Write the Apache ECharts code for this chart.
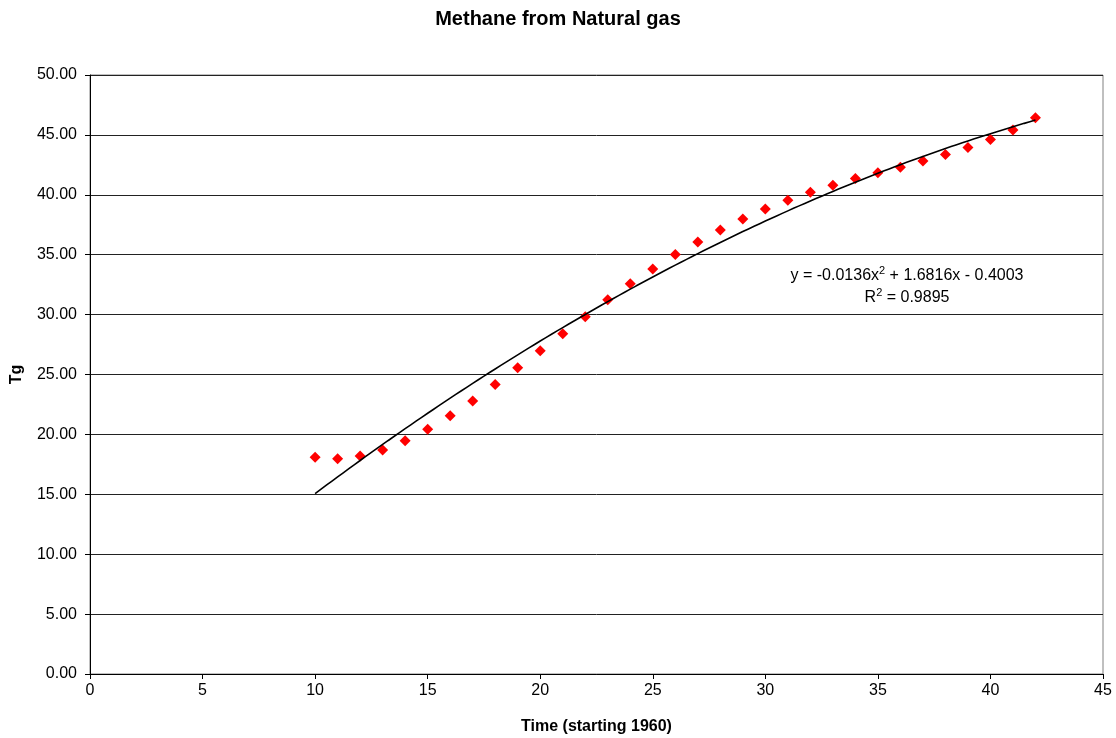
<!DOCTYPE html>
<html>
<head>
<meta charset="utf-8">
<title>Methane from Natural gas</title>
<script src="https://cdn.jsdelivr.net/npm/echarts@6/dist/echarts.min.js"></script>
<style>
  html, body { margin: 0; padding: 0; background: #fff; }
  #app { width: 1116px; height: 738px; }
</style>
</head>
<body>
<div id="app"></div>
<script>
// years since 1960
const years = [10, 11, 12, 13, 14, 15, 16, 17, 18, 19, 20, 21, 22, 23, 24, 25,
  26, 27, 28, 29, 30, 31, 32, 33, 34, 35, 36, 37, 38, 39, 40, 41, 42];
// methane, Tg
const methane = [18.09, 17.97, 18.2, 18.7, 19.47, 20.42, 21.56, 22.79, 24.16, 25.56,
  26.99, 28.41, 29.83, 31.25, 32.57, 33.81, 35.02, 36.06, 37.06, 37.98,
  38.81, 39.55, 40.21, 40.8, 41.37, 41.84, 42.3, 42.82, 43.37, 43.94,
  44.61, 45.4, 46.43];
// polynomial trendline (order 2) as printed on the chart: a x^2 + b x + c
const trendCoef = [-0.0136, 1.6816, -0.4003];
const rSquared = 0.9895;

const FONT = "Liberation Sans, Arial, sans-serif";

const points = years.map((x, i) => [x, methane[i]]);

// trendline sampled over the data range
const trend = [];
for (let x = years[0]; x <= years[years.length - 1] + 1e-9; x += 0.25) {
  trend.push([x, trendCoef[0] * x * x + trendCoef[1] * x + trendCoef[2]]);
}

const eqText = "y = " + trendCoef[0].toFixed(4) + "x{sup|2} + " + trendCoef[1].toFixed(4) +
  "x - " + Math.abs(trendCoef[2]).toFixed(4);
const r2Text = "R{sup|2} = " + rSquared.toFixed(4);
const supStyle = { fontSize: 11, padding: [0, 0, 11, 0], fontFamily: FONT };

const chart = echarts.init(document.getElementById("app"));
chart.setOption({
  backgroundColor: "#fff",
  animation: false,
  textStyle: { fontFamily: FONT },
  title: {
    text: "Methane from Natural gas",
    left: "center",
    top: 4,
    textStyle: { fontFamily: FONT, fontSize: 20, fontWeight: "bold", color: "#000" }
  },
  grid: {
    left: 90,
    right: 13,
    top: 75,
    bottom: 64,
    outerBoundsMode: "none",
    containLabel: false,
    show: true,
    borderColor: "#808080",
    borderWidth: 1
  },
  xAxis: {
    type: "value",
    min: 0,
    max: 45,
    interval: 5,
    name: "Time (starting 1960)",
    nameLocation: "middle",
    nameGap: 45,
    nameTextStyle: { fontFamily: FONT, fontSize: 16, fontWeight: "bold", color: "#000" },
    axisLine: { lineStyle: { color: "#000", width: 1 } },
    axisTick: { show: true, length: 5, lineStyle: { color: "#000" } },
    axisLabel: { fontFamily: FONT, fontSize: 16, color: "#000", margin: 9 },
    splitLine: { show: false }
  },
  yAxis: {
    type: "value",
    min: 0,
    max: 50,
    interval: 5,
    name: "Tg",
    nameLocation: "middle",
    nameGap: 65,
    nameRotate: 90,
    nameTextStyle: { fontFamily: FONT, fontSize: 16, fontWeight: "bold", color: "#000" },
    axisLine: { show: true, lineStyle: { color: "#000", width: 1 } },
    axisTick: { show: true, length: 5, lineStyle: { color: "#000" } },
    axisLabel: {
      fontFamily: FONT, fontSize: 16, color: "#000", margin: 13,
      formatter: v => v.toFixed(2)
    },
    splitLine: { show: true, lineStyle: { color: "#222", width: 1 } }
  },
  series: [
    {
      name: "Methane",
      type: "scatter",
      symbol: "diamond",
      symbolSize: 11,
      itemStyle: { color: "#ff0000", opacity: 1 },
      data: points,
      z: 3
    },
    {
      name: "Trend",
      type: "line",
      showSymbol: false,
      smooth: false,
      lineStyle: { color: "#000", width: 1.6 },
      data: trend,
      z: 4
    }
  ],
  graphic: [
    {
      type: "text",
      x: 907,
      y: 276,
      style: {
        text: eqText,
        align: "center",
        verticalAlign: "middle",
        fontFamily: FONT,
        fontSize: 16,
        fill: "#000",
        rich: { sup: supStyle }
      }
    },
    {
      type: "text",
      x: 907,
      y: 298,
      style: {
        text: r2Text,
        align: "center",
        verticalAlign: "middle",
        fontFamily: FONT,
        fontSize: 16,
        fill: "#000",
        rich: { sup: supStyle }
      }
    }
  ]
});

window.onresize = function() {
  chart.resize();
};
</script>
</body>
</html>
